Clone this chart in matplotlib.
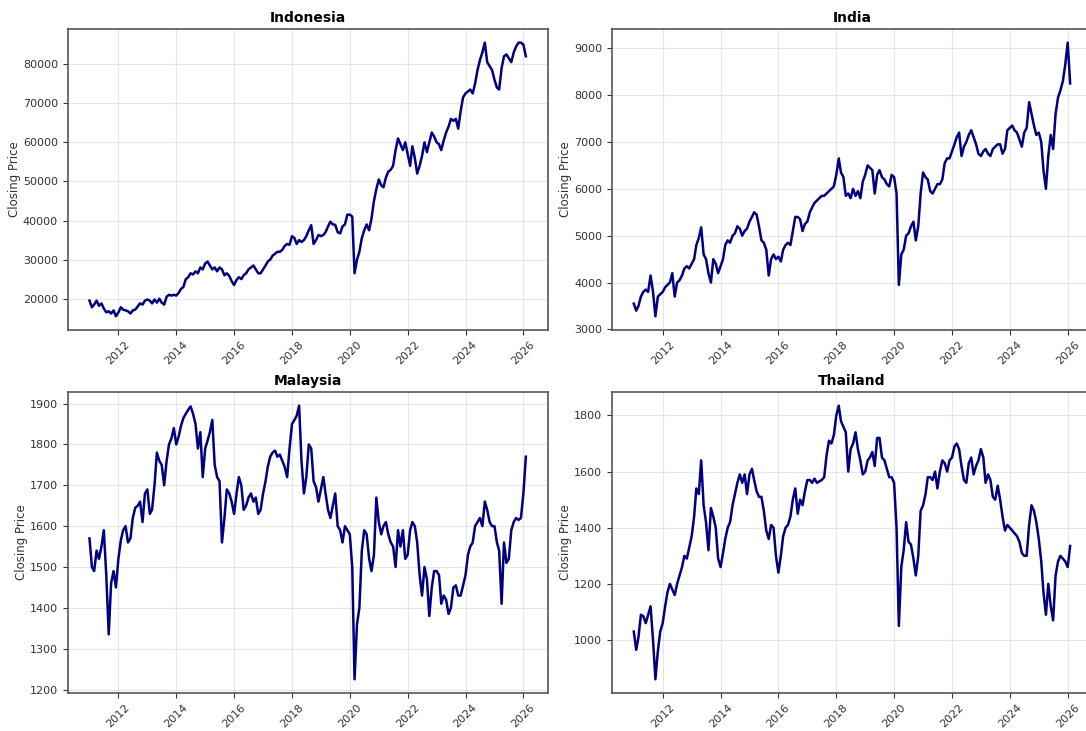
import pandas as pd
import matplotlib
matplotlib.use("Agg")
import matplotlib.pyplot as plt
import matplotlib.dates as mdates

# monthly closing prices, Jan 2011 .. Feb 2026
dates = pd.date_range("2011-01-01", "2026-02-01", freq="MS")

indonesia = [
    19500, 17800, 18500, 19500, 18200, 18800, 17500, 16500, 16800, 16200, 17000, 15500,
    16500, 17800, 17200, 17000, 16800, 16200, 17000, 17200, 18000, 18800, 18500, 19500,
    19800, 19500, 18800, 19800, 19000, 20000, 19000, 18500, 20500, 21000, 20800, 21000,
    20800, 21500, 22500, 23000, 25000, 25500, 26500, 26200, 27000, 26500, 28000, 27500,
    29000, 29500, 28500, 27500, 28000, 27000, 28000, 27500, 26000, 26500, 25800, 24500,
    23500, 24800, 25500, 25000, 26000, 26500, 27500, 28000, 28500, 27500, 26500, 26500,
    27500, 28500, 29500, 30000, 31000, 31500, 32000, 32000, 32500, 33500, 34000, 33800,
    36000, 35500, 34000, 35000, 34500, 35000, 36000, 37500, 38800, 34000, 35000, 36300,
    36000, 36300, 37000, 38500, 39700, 39000, 38900, 37000, 36700, 38500, 39000, 41500,
    41500, 41000, 26500, 30000, 32000, 35500, 37500, 39000, 37500, 40500, 45000, 48000,
    50500, 49000, 48500, 51000, 52500, 53000, 54000, 58000, 61000, 59500, 58000, 60000,
    57000, 54000, 59000, 56000, 52000, 54000, 56500, 60000, 57500, 60000, 62500, 61500,
    60000, 59500, 58000, 60500, 62500, 64000, 66000, 65500, 66000, 63500, 68000, 71500,
    72500, 73000, 73500, 72500, 75000, 78500, 81000, 83000, 85500, 80500, 79500, 78500,
    76000, 74000, 73500, 79000, 82000, 82500, 81500, 80500, 83000, 84500, 85500, 85500,
    85000, 82000,
]

india = [
    3550, 3400, 3500, 3700, 3800, 3850, 3800, 4150, 3800, 3280, 3700, 3750,
    3800, 3900, 3950, 4000, 4200, 3700, 4000, 4050, 4150, 4300, 4350, 4300,
    4400, 4500, 4800, 4950, 5180, 4600, 4500, 4200, 4000, 4500, 4400, 4200,
    4350, 4500, 4800, 4900, 4850, 5000, 5050, 5200, 5150, 5000, 5100, 5150,
    5300, 5400, 5500, 5450, 5200, 4900, 4850, 4700, 4150, 4500, 4600, 4500,
    4550, 4450, 4700, 4800, 4850, 4800, 5100, 5400, 5400, 5350, 5100, 5250,
    5300, 5500, 5600, 5700, 5750, 5800, 5850, 5850, 5900, 5950, 6000, 6050,
    6300, 6650, 6350, 6250, 5850, 5900, 5800, 6000, 5850, 5950, 5800, 6150,
    6300, 6500, 6450, 6400, 5900, 6300, 6400, 6250, 6200, 6100, 6050, 6300,
    6250, 5900, 3950, 4600, 4700, 5000, 5050, 5200, 5300, 4900, 5200, 5900,
    6350, 6250, 6200, 5950, 5900, 6000, 6100, 6100, 6200, 6550, 6650, 6650,
    6800, 6950, 7100, 7200, 6700, 6900, 7000, 7150, 7250, 7100, 6950, 6750,
    6700, 6800, 6850, 6750, 6700, 6850, 6900, 6950, 6950, 6750, 6850, 7250,
    7300, 7350, 7250, 7200, 7050, 6900, 7200, 7300, 7850, 7600, 7350, 7150,
    7200, 7000, 6400, 6000, 6700, 7150, 6850, 7600, 7950, 8100, 8300, 8650,
    9120, 8250,
]

malaysia = [
    1570, 1500, 1490, 1540, 1520, 1550, 1590, 1480, 1335, 1460, 1490, 1450,
    1520, 1565, 1590, 1600, 1560, 1570, 1620, 1645, 1650, 1660, 1610, 1680,
    1690, 1630, 1640, 1700, 1780, 1760, 1750, 1700, 1760, 1800, 1815, 1840,
    1800, 1820, 1845, 1865, 1875, 1885, 1893, 1875, 1850, 1790, 1830, 1720,
    1790, 1810, 1830, 1860, 1750, 1720, 1710, 1560, 1620, 1690, 1680, 1660,
    1630, 1680, 1720, 1700, 1640, 1650, 1670, 1680, 1660, 1670, 1630, 1640,
    1680, 1710, 1745, 1770, 1780, 1785, 1770, 1775, 1760, 1745, 1720, 1790,
    1850, 1860, 1870, 1895, 1760, 1680, 1720, 1800, 1790, 1710, 1695, 1660,
    1690, 1720, 1680, 1640, 1620, 1650, 1680, 1600, 1590, 1560, 1600, 1590,
    1580, 1500, 1225, 1360, 1400, 1540, 1590, 1580, 1520, 1490, 1530, 1670,
    1610, 1580, 1600, 1610, 1580, 1560, 1550, 1500, 1590, 1550, 1590, 1520,
    1530, 1590, 1610, 1600, 1560, 1480, 1430, 1500, 1470, 1380, 1450, 1490,
    1490, 1480, 1410, 1430, 1420, 1385, 1400, 1450, 1455, 1430, 1430, 1455,
    1480, 1530, 1550, 1560, 1600, 1610, 1620, 1600, 1660, 1640, 1610, 1600,
    1600, 1560, 1540, 1410, 1560, 1510, 1520, 1590, 1610, 1620, 1615, 1620,
    1680, 1770,
]

thailand = [
    1030, 965, 1010, 1090, 1085, 1060, 1090, 1120, 1000, 860, 960, 1030,
    1060, 1120, 1170, 1200, 1180, 1160, 1200, 1230, 1260, 1300, 1290, 1330,
    1370, 1440, 1540, 1520, 1640, 1480, 1420, 1320, 1470, 1440, 1400, 1290,
    1260, 1310, 1360, 1400, 1420, 1480, 1520, 1560, 1590, 1560, 1590, 1520,
    1590, 1610, 1570, 1530, 1510, 1510, 1460, 1390, 1360, 1410, 1400, 1300,
    1240, 1300, 1370, 1400, 1410, 1440, 1500, 1540, 1450, 1500, 1480, 1530,
    1570, 1570, 1560, 1575, 1560, 1565, 1570, 1580, 1660, 1710, 1700, 1730,
    1800, 1835, 1780, 1760, 1740, 1600, 1680, 1700, 1740, 1680, 1640, 1590,
    1600, 1640, 1650, 1670, 1620, 1720, 1720, 1650, 1640, 1610, 1580, 1580,
    1560, 1400, 1050, 1260, 1320, 1420, 1350, 1340, 1290, 1230, 1300, 1460,
    1480, 1520, 1580, 1580, 1570, 1600, 1540, 1600, 1640, 1630, 1600, 1640,
    1650, 1690, 1700, 1680, 1620, 1570, 1560, 1630, 1650, 1590, 1620, 1640,
    1680, 1650, 1560, 1590, 1570, 1510, 1500, 1550, 1500, 1440, 1390, 1410,
    1400, 1390, 1380, 1370, 1350, 1310, 1300, 1300, 1410, 1480, 1460, 1420,
    1360, 1280, 1170, 1090, 1200, 1120, 1070, 1230, 1280, 1300, 1290, 1280,
    1260, 1335,
]

countries = ["Indonesia", "India", "Malaysia", "Thailand"]
series = [indonesia, india, malaysia, thailand]

fig = plt.figure(figsize=(10.86, 7.31), dpi=100)

# axes rectangles in figure fractions (right column runs slightly off the page)
rects = [
    [0.0623, 0.5486, 0.442, 0.4118],
    [0.5635, 0.5486, 0.442, 0.4118],
    [0.0623, 0.0520, 0.442, 0.4118],
    [0.5635, 0.0520, 0.442, 0.4118],
]

for rect, name, values in zip(rects, countries, series):
    ax = fig.add_axes(rect)
    ax.plot(dates, values, color="navy", linewidth=1.8)
    ax.set_title(name, fontsize=10, fontweight="bold", pad=5)
    ax.set_ylabel("Closing Price", fontsize=8.5, color="#333333", labelpad=1.5)
    ax.grid(True, alpha=0.3)
    ax.xaxis.set_major_locator(mdates.YearLocator(2))
    ax.xaxis.set_major_formatter(mdates.DateFormatter("%Y"))
    ax.tick_params(axis="x", labelrotation=45, labelsize=8, colors="#333333")
    ax.tick_params(axis="y", labelsize=8, colors="#333333")
    for s in ax.spines.values():
        s.set_color("#555555")
        s.set_linewidth(1.2)

fig.savefig("out.png", dpi=100)
